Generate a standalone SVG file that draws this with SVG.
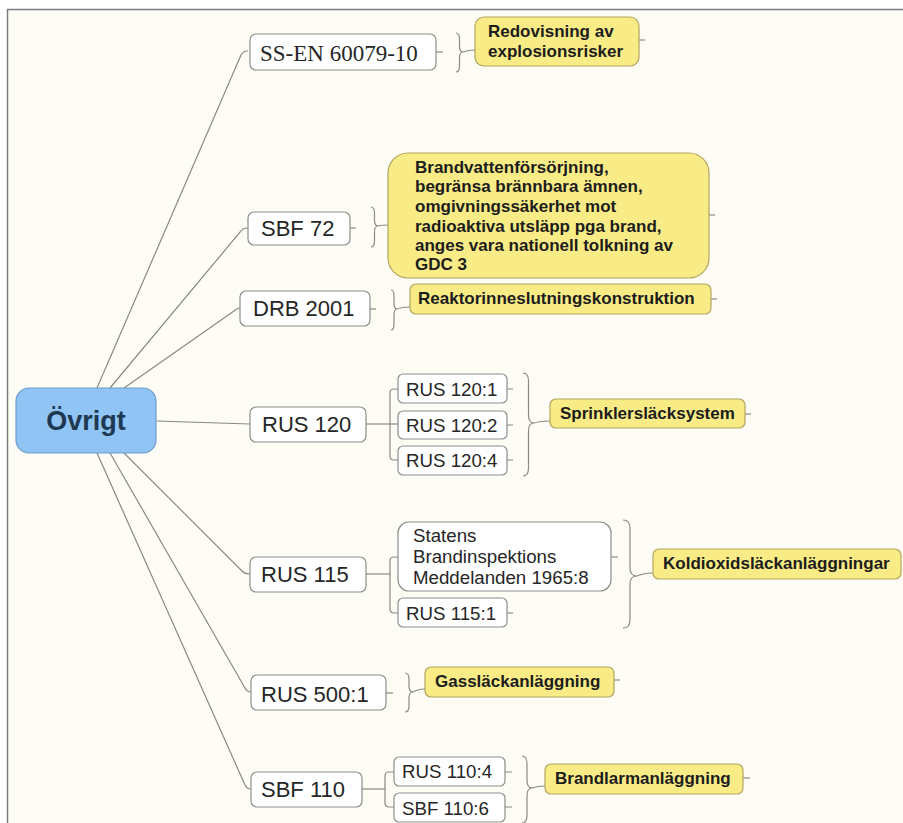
<svg xmlns="http://www.w3.org/2000/svg" width="903" height="823" viewBox="0 0 903 823">
  <style>
    .node rect { fill: #ffffff; stroke: #8e8e8a; stroke-width: 1.2; }
    .note rect { fill: #f9ec86; stroke: #b4a45e; stroke-width: 1.2; }
    .root rect { fill: #90c4f5; stroke: #6f9ccb; stroke-width: 1.2; }
    .t { font-family: "Liberation Sans", Arial, sans-serif; font-size: 22px; fill: #262626; }
    .ts { font-family: "Liberation Sans", Arial, sans-serif; font-size: 18.7px; fill: #262626; }
    .tb { font-family: "Liberation Sans", Arial, sans-serif; font-size: 17px; font-weight: bold; fill: #1c1c1c; }
    .tr { font-family: "Liberation Sans", Arial, sans-serif; font-size: 27px; font-weight: bold; fill: #1d3850; }
    .serif { font-family: "Liberation Serif", "Times New Roman", serif; font-size: 23px; fill: #262626; }
    #connectors path { fill: none; stroke: #8a8a82; stroke-width: 1.2; }
  </style>

  <!-- canvas and frame -->
  <rect x="0" y="0" width="903" height="823" fill="#ffffff"/>
  <rect x="7" y="9" width="896" height="814" fill="#fdfdf6"/>
  <path d="M7.5,823 V9.5 H903" fill="none" stroke="#7c7c7c" stroke-width="1.5"/>

  <g id="connectors">
    <!-- root to main branches -->
    <path d="M97,388 L241,55 Q243,51 248,51"/>
    <path d="M110,388 L241,231 Q243,228 248,228"/>
    <path d="M124,388 L234,311 Q237,308 240,308"/>
    <path d="M156,421 L250,424"/>
    <path d="M124,453 L242,571 Q245,574 250,574"/>
    <path d="M110,453 L245,688 Q247,692 251,692"/>
    <path d="M97,453 L245,785 Q247,789 251,789"/>

    <!-- sub-branches -->
    <path d="M366,424 H398"/>
    <path d="M398,389 H394 Q390,389 390,393 V456 Q390,460 394,460 H398"/>
    <path d="M366,574 H390"/>
    <path d="M398,557 H394 Q390,557 390,561 V609 Q390,613 394,613 H398"/>
    <path d="M362,789 H385"/>
    <path d="M394,772 H389 Q385,772 385,776 V803 Q385,807 389,807 H394"/>

    <!-- collapse stubs -->
    <path d="M436,52 H443"/>
    <path d="M350,228 H356"/>
    <path d="M370,309 H376"/>
    <path d="M507,389 H513 M507,425 H513 M507,460 H513"/>
    <path d="M611,557 H618"/>
    <path d="M507,613 H513"/>
    <path d="M386,693 H393"/>
    <path d="M505,772 H512 M505,807 H512"/>
    <path d="M639,40 H645"/>
    <path d="M709,215 H715"/>
    <path d="M711,299 H717"/>
    <path d="M745,414 H751"/>
    <path d="M614,680 H620"/>
    <path d="M743,778 H750"/>

    <!-- braces leading to notes -->
    <path d="M456,33 Q459.5,33 459.5,39 V46 Q459.5,52 463,52 Q459.5,52 459.5,58 V66 Q459.5,72 456,72"/>
    <path d="M463,52 Q468,50 475,50"/>
    <path d="M371,207 Q374.5,207 374.5,213 V220 Q374.5,226 378,226 Q374.5,226 374.5,232 V241 Q374.5,247 371,247"/>
    <path d="M378,226 Q382,225 388,225"/>
    <path d="M391,290 Q394,290 394,296 V303 Q394,309 397,309 Q394,309 394,315 V324 Q394,330 391,330"/>
    <path d="M397,309 Q402,307 410,307"/>
    <path d="M523,373 Q528.5,373 528.5,381 V415 Q528.5,423 534,423 Q528.5,423 528.5,431 V468 Q528.5,476 523,476"/>
    <path d="M534,423 Q540,421 550,421"/>
    <path d="M623,520 Q630,520 630,528 V568 Q630,576 637,576 Q630,576 630,584 V620 Q630,628 623,628"/>
    <path d="M637,576 Q644,573 653,573"/>
    <path d="M405,673 Q409,673 409,679 V686 Q409,692 413,692 Q409,692 409,698 V706 Q409,712 405,712"/>
    <path d="M413,692 Q418,689 425,689"/>
    <path d="M522,756 Q527,756 527,764 V780 Q527,788 532,788 Q527,788 527,796 V815 Q527,823 522,823"/>
    <path d="M532,788 Q538,786 545,786"/>
  </g>

  <!-- central topic -->
  <g id="root" class="root">
    <rect x="16" y="388" width="140" height="65" rx="13"/>
    <text class="tr" x="86" y="430" text-anchor="middle">Övrigt</text>
  </g>

  <!-- main branches -->
  <g id="ss-en" class="node">
    <rect x="250" y="34" width="186" height="36" rx="6"/>
    <text class="serif" x="260" y="61">SS-EN 60079-10</text>
  </g>
  <g id="sbf72" class="node">
    <rect x="248" y="212" width="102" height="33" rx="6"/>
    <text class="t" x="261" y="236">SBF 72</text>
  </g>
  <g id="drb2001" class="node">
    <rect x="240" y="291" width="130" height="35" rx="6"/>
    <text class="t" x="253" y="316">DRB 2001</text>
  </g>
  <g id="rus120" class="node">
    <rect x="250" y="407" width="116" height="35" rx="6"/>
    <text class="t" x="262" y="432">RUS 120</text>
  </g>
  <g id="rus115" class="node">
    <rect x="250" y="557" width="116" height="35" rx="6"/>
    <text class="t" x="261" y="582">RUS 115</text>
  </g>
  <g id="rus500" class="node">
    <rect x="251" y="675" width="135" height="35" rx="6"/>
    <text class="t" x="261" y="702">RUS 500:1</text>
  </g>
  <g id="sbf110" class="node">
    <rect x="251" y="772" width="111" height="35" rx="6"/>
    <text class="t" x="261" y="797">SBF 110</text>
  </g>

  <!-- sub-branches -->
  <g id="rus120-1" class="node">
    <rect x="398" y="374" width="109" height="29" rx="5"/>
    <text class="ts" x="406" y="396">RUS 120:1</text>
  </g>
  <g id="rus120-2" class="node">
    <rect x="398" y="411" width="109" height="28" rx="5"/>
    <text class="ts" x="406" y="432">RUS 120:2</text>
  </g>
  <g id="rus120-4" class="node">
    <rect x="398" y="446" width="109" height="29" rx="5"/>
    <text class="ts" x="406" y="467">RUS 120:4</text>
  </g>
  <g id="statens" class="node">
    <rect x="398" y="522" width="213" height="69" rx="11"/>
    <text class="ts" x="413" y="542">Statens</text>
    <text class="ts" x="413" y="563">Brandinspektions</text>
    <text class="ts" x="413" y="584">Meddelanden 1965:8</text>
  </g>
  <g id="rus115-1" class="node">
    <rect x="398" y="598" width="109" height="29" rx="5"/>
    <text class="ts" x="406" y="620">RUS 115:1</text>
  </g>
  <g id="rus110-4" class="node">
    <rect x="394" y="757" width="111" height="29" rx="5"/>
    <text class="ts" x="402" y="778">RUS 110:4</text>
  </g>
  <g id="sbf110-6" class="node">
    <rect x="394" y="793" width="111" height="29" rx="5"/>
    <text class="ts" x="402" y="815">SBF 110:6</text>
  </g>

  <!-- notes -->
  <g id="note-explosion" class="note">
    <rect x="475" y="17" width="164" height="49" rx="9"/>
    <text class="tb" x="488" y="37">Redovisning av</text>
    <text class="tb" x="488" y="57">explosionsrisker</text>
  </g>
  <g id="note-brandvatten" class="note">
    <rect x="388" y="153" width="321" height="125" rx="20"/>
    <text class="tb" x="415" y="173">Brandvattenförsörjning,</text>
    <text class="tb" x="415" y="192">begränsa brännbara ämnen,</text>
    <text class="tb" x="415" y="212">omgivningssäkerhet mot</text>
    <text class="tb" x="415" y="232">radioaktiva utsläpp pga brand,</text>
    <text class="tb" x="415" y="251">anges vara nationell tolkning av</text>
    <text class="tb" x="415" y="270">GDC 3</text>
  </g>
  <g id="note-reaktor" class="note">
    <rect x="410" y="284" width="301" height="30" rx="6"/>
    <text class="tb" x="418" y="304">Reaktorinneslutningskonstruktion</text>
  </g>
  <g id="note-sprinkler" class="note">
    <rect x="550" y="399" width="195" height="29" rx="6"/>
    <text class="tb" x="560" y="419">Sprinklersläcksystem</text>
  </g>
  <g id="note-koldioxid" class="note">
    <rect x="653" y="549" width="248" height="30" rx="6"/>
    <text class="tb" x="663" y="569">Koldioxidsläckanläggningar</text>
  </g>
  <g id="note-gas" class="note">
    <rect x="425" y="667" width="189" height="30" rx="6"/>
    <text class="tb" x="435" y="687">Gassläckanläggning</text>
  </g>
  <g id="note-brandlarm" class="note">
    <rect x="545" y="764" width="198" height="30" rx="6"/>
    <text class="tb" x="555" y="784">Brandlarmanläggning</text>
  </g>
</svg>
